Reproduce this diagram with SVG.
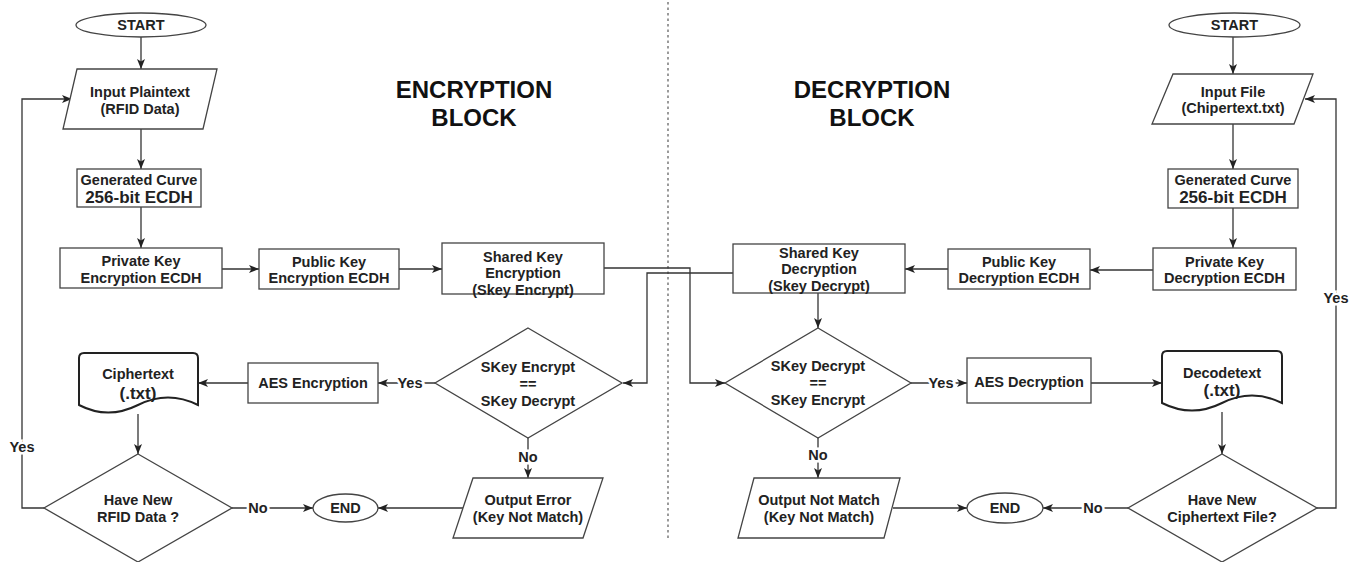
<svg xmlns="http://www.w3.org/2000/svg" width="1353" height="562" viewBox="0 0 1353 562">
<defs>
<marker id="ah" viewBox="0 0 10 8" refX="10" refY="4" markerWidth="10" markerHeight="8" markerUnits="userSpaceOnUse" orient="auto">
<path d="M0,0 L10,4 L0,8 L2.5,4 z" fill="#222"/>
</marker>
<style>
.n{fill:#fff;stroke:#444;stroke-width:1.3}
.d{fill:#fff;stroke:#222;stroke-width:2}
.t{font-family:"Liberation Sans",Arial,sans-serif;font-weight:bold;font-size:14.5px;fill:#222;text-anchor:middle;dominant-baseline:central}
.b{font-size:17px}
.h{font-family:"Liberation Sans",Arial,sans-serif;font-weight:bold;font-size:24px;fill:#111;text-anchor:middle}
.c{fill:none;stroke:#333;stroke-width:1.3}
.a{marker-end:url(#ah)}
.l{stroke:#fff;stroke-width:5;paint-order:stroke}
</style>
</defs>
<rect width="1353" height="562" fill="#fff"/>
<line x1="668" y1="2" x2="668" y2="538" stroke="#666" stroke-width="1.3" stroke-dasharray="2.5 3"/>
<g id="title-enc"><text class="h" x="474" y="98">ENCRYPTION</text><text class="h" x="474" y="126">BLOCK</text></g>
<g id="title-dec"><text class="h" x="872" y="98">DECRYPTION</text><text class="h" x="872" y="126">BLOCK</text></g>

<g id="connectors">
<path class="c a" d="M141,37 V69"/>
<path class="c a" d="M141,129 V169"/>
<path class="c a" d="M141,207 V248"/>
<path class="c a" d="M222,269 H259"/>
<path class="c a" d="M399,269 H442"/>
<path class="c a" d="M604,268 H690 V383 H725"/>
<path class="c a" d="M733,273 H647 V383 H623"/>
<path class="c a" d="M435,383 H378"/>
<path class="c a" d="M248,383 H198"/>
<path class="c a" d="M138,414 V454"/>
<path class="c a" d="M44,508 H22 V99 H72"/>
<path class="c a" d="M232,508 H313"/>
<path class="c a" d="M463,508 H378"/>
<path class="c a" d="M528,438 V478"/>
<path class="c a" d="M1233,37 V74"/>
<path class="c a" d="M1233,124 V169"/>
<path class="c a" d="M1233,208 V248"/>
<path class="c a" d="M1153,270 H1090"/>
<path class="c a" d="M948,269 H905"/>
<path class="c a" d="M818,293 V328"/>
<path class="c a" d="M911,383 H967"/>
<path class="c a" d="M1091,383 H1162"/>
<path class="c a" d="M1222,412 V454"/>
<path class="c a" d="M1317,508 H1336 V99 H1305"/>
<path class="c a" d="M1128,508 H1043"/>
<path class="c a" d="M893,508 H967"/>
<path class="c a" d="M818,438 V478"/>
<text class="t l" x="22" y="447">Yes</text>
<text class="t l" x="258" y="508">No</text>
<text class="t l" x="410" y="383">Yes</text>
<text class="t l" x="528" y="457">No</text>
<text class="t l" x="941" y="383">Yes</text>
<text class="t l" x="1093" y="508">No</text>
<text class="t l" x="818" y="455">No</text>
<text class="t l" x="1336" y="298">Yes</text>
</g>

<g id="start-enc"><ellipse class="n" cx="141" cy="25" rx="65" ry="12"/><text class="t" x="141" y="25">START</text></g>
<g id="input-plaintext"><path class="n" d="M77,69 H217 L203,129 H63 Z"/><text class="t" x="140" y="92">Input Plaintext</text><text class="t" x="140" y="109">(RFID Data)</text></g>
<g id="gen-curve-enc"><rect class="n" x="77" y="169" width="124" height="38"/><text class="t" x="139" y="180">Generated Curve</text><text class="t b" x="139" y="197">256-bit ECDH</text></g>
<g id="private-enc"><rect class="n" x="60" y="248" width="162" height="40"/><text class="t" x="141" y="261">Private Key</text><text class="t" x="141" y="278">Encryption ECDH</text></g>
<g id="public-enc"><rect class="n" x="259" y="249" width="140" height="40"/><text class="t" x="329" y="262">Public Key</text><text class="t" x="329" y="278">Encryption ECDH</text></g>
<g id="shared-enc"><rect class="n" x="442" y="243" width="162" height="51"/><text class="t" x="523" y="257">Shared Key</text><text class="t" x="523" y="273">Encryption</text><text class="t" x="523" y="290">(Skey Encrypt)</text></g>
<g id="cmp-enc"><path class="n" d="M528,328 L622,383 L528,438 L435,383 Z"/><text class="t" x="528" y="367">SKey Encrypt</text><text class="t" x="528" y="384">==</text><text class="t" x="528" y="401">SKey Decrypt</text></g>
<g id="aes-enc"><rect class="n" x="248" y="363" width="130" height="40"/><text class="t" x="313" y="383">AES Encryption</text></g>
<g id="ciphertext"><path class="d" d="M79,405 V358 Q79,353 84,353 H193 Q198,353 198,358 V405 Q168,390 138,405 Q108,420 79,405 Z"/><text class="t" x="138" y="374">Ciphertext</text><text class="t b" x="138" y="393">(.txt)</text></g>
<g id="new-rfid"><path class="n" d="M138,454 L232,508 L138,562 L44,508 Z"/><text class="t" x="138" y="500">Have New</text><text class="t" x="138" y="517">RFID Data ?</text></g>
<g id="end-enc"><ellipse class="n" cx="345.5" cy="508" rx="32.5" ry="14"/><text class="t" x="345.5" y="508">END</text></g>
<g id="output-error"><path class="n" d="M473,478 H603 L583,538 H453 Z"/><text class="t" x="528" y="500">Output Error</text><text class="t" x="528" y="517">(Key Not Match)</text></g>

<g id="start-dec"><ellipse class="n" cx="1234.5" cy="25" rx="65.5" ry="12"/><text class="t" x="1234.5" y="25">START</text></g>
<g id="input-file"><path class="n" d="M1173,74 H1313 L1294,124 H1152 Z"/><text class="t" x="1233" y="92">Input File</text><text class="t" x="1233" y="108">(Chipertext.txt)</text></g>
<g id="gen-curve-dec"><rect class="n" x="1168" y="169" width="130" height="39"/><text class="t" x="1233" y="180">Generated Curve</text><text class="t b" x="1233" y="197">256-bit ECDH</text></g>
<g id="private-dec"><rect class="n" x="1153" y="248" width="143" height="42"/><text class="t" x="1224.5" y="262">Private Key</text><text class="t" x="1224.5" y="278">Decryption ECDH</text></g>
<g id="public-dec"><rect class="n" x="948" y="249" width="142" height="40"/><text class="t" x="1019" y="262">Public Key</text><text class="t" x="1019" y="278">Decryption ECDH</text></g>
<g id="shared-dec"><rect class="n" x="733" y="244" width="172" height="49"/><text class="t" x="819" y="253">Shared Key</text><text class="t" x="819" y="269">Decryption</text><text class="t" x="819" y="286">(Skey Decrypt)</text></g>
<g id="cmp-dec"><path class="n" d="M818,328 L911,383 L818,438 L725,383 Z"/><text class="t" x="818" y="366">SKey Decrypt</text><text class="t" x="818" y="383">==</text><text class="t" x="818" y="400">SKey Encrypt</text></g>
<g id="aes-dec"><rect class="n" x="967" y="358" width="124" height="45"/><text class="t" x="1029" y="382">AES Decryption</text></g>
<g id="decodetext"><path class="d" d="M1162,403 V356 Q1162,351 1167,351 H1277 Q1282,351 1282,356 V403 Q1252,388 1222,403 Q1192,418 1162,403 Z"/><text class="t" x="1222" y="373">Decodetext</text><text class="t b" x="1222" y="390">(.txt)</text></g>
<g id="new-cipher"><path class="n" d="M1222,454 L1317,508 L1222,562 L1128,508 Z"/><text class="t" x="1222" y="500">Have New</text><text class="t" x="1222" y="517">Ciphertext File?</text></g>
<g id="end-dec"><ellipse class="n" cx="1005" cy="508" rx="38" ry="15"/><text class="t" x="1005" y="508">END</text></g>
<g id="output-notmatch"><path class="n" d="M754,478 H900 L884,538 H738 Z"/><text class="t" x="819" y="500">Output Not Match</text><text class="t" x="819" y="517">(Key Not Match)</text></g>
</svg>
